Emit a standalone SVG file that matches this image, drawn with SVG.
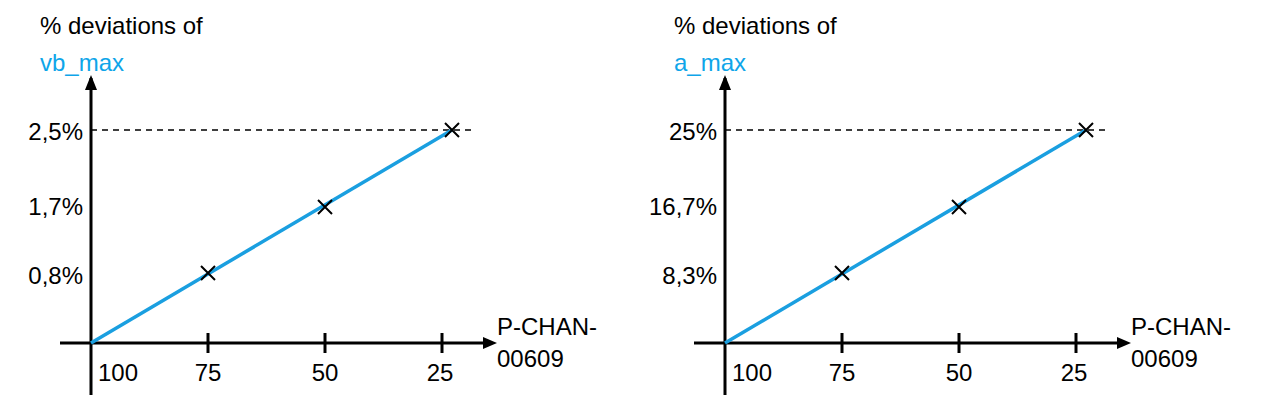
<svg xmlns="http://www.w3.org/2000/svg" width="1270" height="407" viewBox="0 0 1270 407">
<style>
text{font-family:"Liberation Sans",Arial,sans-serif;font-size:24px;fill:#000}
.b{fill:#0ea5e9}
.r{text-anchor:end}
.m{text-anchor:middle}
.ax{stroke:#000;stroke-width:3;fill:none}
.d{stroke:#000;stroke-width:1.5;stroke-dasharray:6,5}
.l{stroke:#1a9fe0;stroke-width:3.5}
.x{stroke:#000;stroke-width:2}
</style>
<defs>
<marker id="ar" viewBox="0 0 10 10" refX="10" refY="5" markerWidth="10" markerHeight="10" markerUnits="userSpaceOnUse" orient="auto"><path d="M0,0L10,5L0,10z"/></marker>
<g id="chart">
<g class="connectors">
<line class="d" x1="91" y1="130" x2="472" y2="130"/>
<line class="ax" x1="91" y1="395" x2="91" y2="78" marker-end="url(#ar)" style="marker-end:none"/>
<path d="M85,90L91,75L97,90z"/>
<line class="ax" x1="60" y1="343" x2="485" y2="343"/>
<path d="M483,337L497,343L483,349z"/>
<line class="ax" x1="208" y1="333" x2="208" y2="353"/>
<line class="ax" x1="325" y1="333" x2="325" y2="353"/>
<line class="ax" x1="442" y1="333" x2="442" y2="353"/>
<line class="l" x1="91" y1="343" x2="452" y2="130"/>
</g>
<g class="x"><path d="M201,266L215,280M215,266L201,280"/><path d="M318,200L332,214M332,200L318,214"/><path d="M445,123L459,137M459,123L445,137"/></g>
<text x="98" y="381">100</text>
<text class="m" x="208" y="381">75</text>
<text class="m" x="325" y="381">50</text>
<text class="m" x="440" y="381">25</text>
<text x="497" y="335">P-CHAN-</text>
<text x="497" y="367">00609</text>
<text x="40" y="34">% deviations of</text>
</g>
</defs>
<g id="left">
<use href="#chart"/>
<text class="b" x="40" y="71">vb_max</text>
<text class="r" x="83" y="140">2,5%</text>
<text class="r" x="83" y="215">1,7%</text>
<text class="r" x="83" y="284">0,8%</text>
</g>
<g id="right">
<use href="#chart" x="634"/>
<text class="b" x="674" y="71">a_max</text>
<text class="r" x="717" y="140">25%</text>
<text class="r" x="717" y="215">16,7%</text>
<text class="r" x="717" y="284">8,3%</text>
</g>
</svg>
